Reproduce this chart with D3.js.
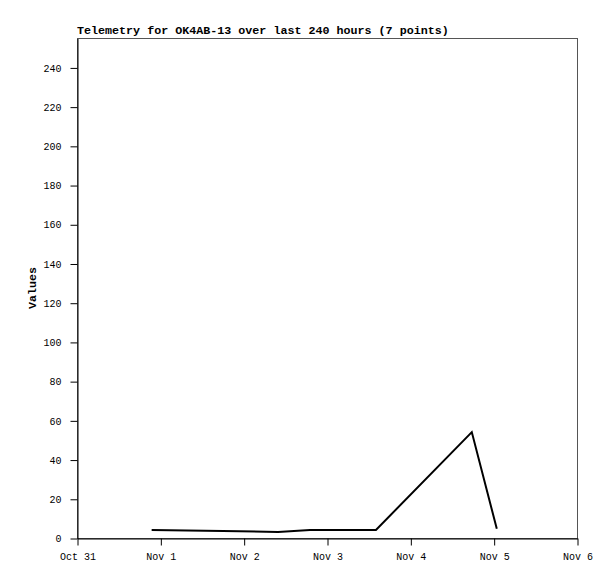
<!DOCTYPE html>
<html><head><meta charset="utf-8">
<script src="https://cdn.jsdelivr.net/npm/d3@7/dist/d3.min.js"></script>
<style>
body{margin:0;background:#fff;}
svg{display:block;}
text{font-family:"Liberation Mono","DejaVu Sans Mono",monospace;}
</style></head><body>
<svg id="chart" width="615" height="579"></svg>
<script>
const title = "Telemetry for OK4AB-13 over last 240 hours (7 points)";
const yLabel = "Values";
// observation times (hours after Oct 31 00:00) and values
const hours = [21.5, 42.0, 57.9, 67.1, 86.1, 113.7, 120.9];
const values = [4.1, 3.6, 3.1, 4.1, 4.1, 54.0, 4.7];
const yTicks = [0, 20, 40, 60, 80, 100, 120, 140, 160, 180, 200, 220, 240];
const xTickLabels = ["Oct 31", "Nov 1", "Nov 2", "Nov 3", "Nov 4", "Nov 5", "Nov 6"];
const yDomain = [0, 255];

const start = new Date(2023, 9, 31, 0, 0, 0);
const end = new Date(2023, 10, 6, 0, 0, 0);
const dates = hours.map(h => new Date(start.getTime() + h * 3600e3));
const tickDates = xTickLabels.map((_, i) => new Date(start.getTime() + i * 24 * 3600e3));

const m = {left: 77, top: 38, right: 577, bottom: 538};
const svg = d3.select("#chart");
const x = d3.scaleTime().domain([start, end]).range([m.left, m.right]);
const y = d3.scaleLinear().domain(yDomain).range([m.bottom, m.top]);

// frame
svg.append("rect").attr("x", m.left + 0.5).attr("y", m.top + 0.5)
  .attr("width", m.right - m.left).attr("height", m.bottom - m.top)
  .attr("fill", "none").attr("stroke", "#555").attr("stroke-width", 1);

// axes
const xAxis = d3.axisBottom(x).tickValues(tickDates)
  .tickFormat((d, i) => xTickLabels[i]).tickSize(7).tickSizeOuter(0);
const gx = svg.append("g").attr("transform", `translate(0.5,${m.bottom + 0.5})`).call(xAxis);
const yAxis = d3.axisLeft(y).tickValues(yTicks).tickSize(7).tickSizeOuter(0);
const gy = svg.append("g").attr("transform", `translate(${m.left + 0.5},0.5)`).call(yAxis);
[gx, gy].forEach(g => {
  g.selectAll(".domain").attr("stroke", "#000");
  g.selectAll(".tick line").attr("stroke", "#000");
  g.selectAll(".tick text").attr("fill", "#000").style("font-size", "10px")
    .style("font-family", '"Liberation Mono","DejaVu Sans Mono",monospace');
});
gx.selectAll(".tick text").attr("dy", null).attr("y", 21);
gy.selectAll(".tick text").attr("x", -16);

// line
const line = d3.line().x((d, i) => x(dates[i])).y(d => y(d));
svg.append("path").datum(values).attr("d", line)
  .attr("fill", "none").attr("stroke", "#000").attr("stroke-width", 2)
  .attr("stroke-linejoin", "miter");

// title
svg.append("text").attr("x", m.left).attr("y", 34)
  .style("font-size", "11.7px").style("font-weight", "bold").text(title);

// y label
svg.append("text").attr("transform", `translate(36,${(m.top + m.bottom) / 2}) rotate(-90)`)
  .attr("text-anchor", "middle").style("font-size", "11.7px").style("font-weight", "bold")
  .text(yLabel);
</script>
</body></html>
